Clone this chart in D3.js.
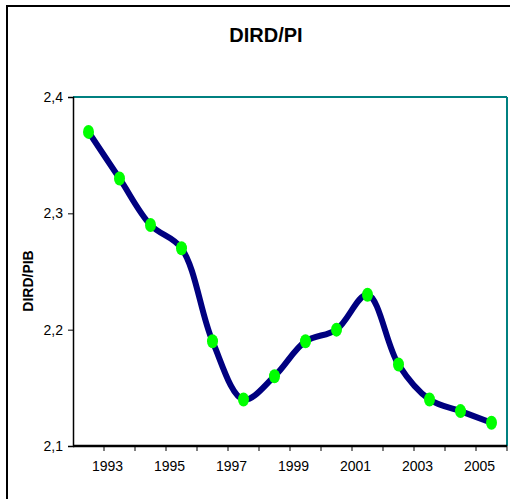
<!DOCTYPE html>
<html>
<head>
<meta charset="utf-8">
<script src="https://cdn.jsdelivr.net/npm/d3@7"></script>
<style>
	body { margin: 0; background: #fff; }
	text { font-family: Arial, "Liberation Sans", sans-serif; }
</style>
</head>
<body>
<svg id="chart" width="510" height="499"></svg>
<script>
const YEARS = ['1992', '1993', '1994', '1995', '1996', '1997', '1998', '1999', '2000', '2001', '2002', '2003', '2004', '2005'];
const RATIO = [2.37, 2.33, 2.29, 2.27, 2.19, 2.14, 2.16, 2.19, 2.20, 2.23, 2.17, 2.14, 2.13, 2.12];
const Y_TICKS = [2.1, 2.2, 2.3, 2.4];
const X_LABELS = ['1993', '1995', '1997', '1999', '2001', '2003', '2005'];

const MARGIN = { top: 97, right: 3, bottom: 53, left: 73 };

const svg = d3.select('#chart');
const width = 510 - MARGIN.left - MARGIN.right;
const height = 499 - MARGIN.top - MARGIN.bottom;

// outer frame (only left/top visible in the crop)
svg.append('line').attr('x1', 7).attr('y1', 6).attr('x2', 7).attr('y2', 499)
	.attr('stroke', '#000').attr('stroke-width', 2);
svg.append('line').attr('x1', 6).attr('y1', 6).attr('x2', 510).attr('y2', 6)
	.attr('stroke', '#000').attr('stroke-width', 2);

svg.append('text')
	.attr('x', 266).attr('y', 42)
	.attr('text-anchor', 'middle')
	.attr('font-size', 20).attr('font-weight', 'bold')
	.text('DIRD/PI');

svg.append('text')
	.attr('transform', 'translate(33,281) rotate(-90)')
	.attr('text-anchor', 'middle')
	.attr('font-size', 14).attr('font-weight', 'bold')
	.text('DIRD/PIB');

const g = svg.append('g').attr('transform', `translate(${MARGIN.left},${MARGIN.top})`);

const x = d3.scaleBand().domain(YEARS).range([0, width]);
const y = d3.scaleLinear().domain([2.1, 2.4]).range([height, 0]);

// plot area border: top/right teal
g.append('line').attr('x1', 0).attr('x2', width).attr('y1', 0).attr('y2', 0)
	.attr('stroke', '#008080').attr('stroke-width', 2);
g.append('line').attr('x1', width).attr('x2', width).attr('y1', 0).attr('y2', height)
	.attr('stroke', '#008080').attr('stroke-width', 2);

const fmt = d => d3.format('.1f')(d).replace('.', ',');

const yAxis = d3.axisLeft(y).tickValues(Y_TICKS).tickSize(5).tickFormat(fmt);
g.append('g').call(yAxis)
	.call(s => s.select('.domain').attr('stroke-width', 1.5))
	.call(s => s.selectAll('text').attr('font-size', 14).attr('fill', '#000').attr('dx', -2));

// x axis: ticks at category boundaries, labels on odd years
const xAxisG = g.append('g').attr('transform', `translate(0,${height})`);
xAxisG.append('line').attr('x1', 0).attr('x2', width)
	.attr('stroke', '#000').attr('stroke-width', 2.5);
xAxisG.selectAll('.tk')
	.data(YEARS.slice(1).concat(['end']))
	.enter().append('line')
	.attr('x1', (d, i) => i < YEARS.length - 1 ? x(d) : width)
	.attr('x2', (d, i) => i < YEARS.length - 1 ? x(d) : width)
	.attr('y1', 0).attr('y2', 5)
	.attr('stroke', '#000');
xAxisG.selectAll('.lbl')
	.data(X_LABELS)
	.enter().append('text')
	.attr('x', d => x(d) + x.bandwidth() / 2 - 12)
	.attr('y', 25)
	.attr('text-anchor', 'middle')
	.attr('font-size', 14)
	.text(d => d);

const data = YEARS.map((yr, i) => ({ year: yr, value: RATIO[i] }));

const line = d3.line()
	.x(d => x(d.year) + x.bandwidth() / 2)
	.y(d => y(d.value))
	.curve(d3.curveCatmullRom.alpha(0.5));

g.append('path')
	.datum(data)
	.attr('d', line)
	.attr('fill', 'none')
	.attr('stroke', '#000080')
	.attr('stroke-width', 6)
	.attr('stroke-linejoin', 'round');

g.selectAll('.pt')
	.data(data)
	.enter().append('ellipse')
	.attr('cx', d => x(d.year) + x.bandwidth() / 2)
	.attr('cy', d => y(d.value))
	.attr('rx', 5.5).attr('ry', 7)
	.attr('fill', '#00ff00');
</script>
</body>
</html>
